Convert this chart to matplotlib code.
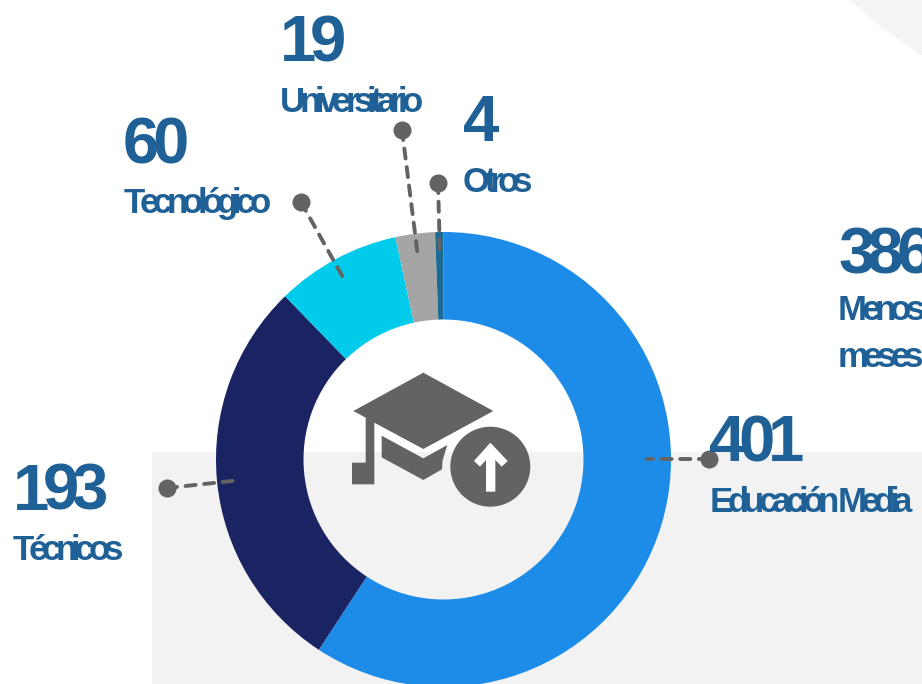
import matplotlib
matplotlib.use("Agg")
import matplotlib.pyplot as plt
from matplotlib.patches import Rectangle, Circle, Polygon
from matplotlib.text import Text
from matplotlib.transforms import Bbox
from matplotlib import font_manager as fm

values = [401, 193, 60, 19, 4]
categories = ["Educación Media", "Técnicos", "Tecnológico", "Universitario", "Otros"]
colors = ["#1c8ce8", "#1a2463", "#00cbeb", "#a5a5a5", "#1a6a94"]
extra_value = 386
extra_lines = ["Menos", "meses"]

W, H = 922, 684
INK = "#1f6096"
GREY = "#636363"
Y = lambda p: H - p


class TrackedText(Text):
    """A text with tight letter spacing (tracking in pixels)."""

    def __init__(self, *args, tracking=0, **kwargs):
        super().__init__(*args, **kwargs)
        self._tracking = tracking

    def _advances(self, dpi):
        font = fm.get_font(fm.findfont(self.get_fontproperties()))
        font.set_size(self.get_fontsize(), dpi)
        return [font.load_char(ord(c)).linearHoriAdvance / 65536 + self._tracking
                for c in self.get_text()]

    def draw(self, renderer):
        if not self.get_visible():
            return
        x, y = self.get_transform().transform(self.get_position())
        if renderer.flipy():
            y = renderer.height - y
        gc = renderer.new_gc()
        gc.set_foreground(self.get_color())
        gc.set_alpha(self.get_alpha())
        self._set_gc_clip(gc)
        for c, adv in zip(self.get_text(), self._advances(self.get_figure().dpi)):
            renderer.draw_text(gc, x, y, c, self.get_fontproperties(), 0, ismath=False)
            x += adv
        gc.restore()

    def get_window_extent(self, renderer=None, dpi=None):
        d = dpi or self.get_figure().dpi
        x, y = self.get_transform().transform(self.get_position())
        w = sum(self._advances(d)) - self._tracking
        h = self.get_fontsize() * d / 72
        return Bbox.from_bounds(x, y - 0.2 * h, w, h)


fig = plt.figure(figsize=(9.22, 6.84), dpi=100, facecolor="white")
ax = fig.add_axes([0, 0, 1, 1])

# background shapes
ax.add_patch(Rectangle((152, 0), W - 152, H - 452, fc="#f2f2f2", ec="none", zorder=0))
ax.add_patch(Circle((1188, Y(-368)), 500, fc="#f4f4f4", ec="none", zorder=0))

# donut
ax.pie(values, colors=colors, startangle=90, counterclock=False, radius=227.5,
       center=(443.5, Y(459.5)), frame=True,
       wedgeprops=dict(width=87.5, linewidth=0), normalize=True)
ax.set_xlim(0, W)
ax.set_ylim(0, H)
ax.set_aspect("auto")
ax.axis("off")

# leader lines
leaders = [
    ((709, 459), (647, 459)),
    ((167, 488), (241, 480)),
    ((301, 202), (345, 281)),
    ((402, 130), (418, 257)),
    ((438, 183), (440, 255)),
]
for (x0, y0), (x1, y1) in leaders:
    ax.plot([x0, x1], [Y(y0), Y(y1)], color=GREY, lw=2.8, ls=(0, (2.6, 2.2)), zorder=5,
            dash_capstyle="round")
    ax.plot([x0], [Y(y0)], "o", color=GREY, ms=13, mew=0, zorder=6)


# icon
def px(points):
    return [(330 + x / 3, Y(350 + y / 3)) for x, y in points]


cap = [(70, 183), (280, 68), (490, 183), (280, 297), (133, 218), (133, 403), (66, 403),
       (66, 338), (107, 338), (107, 203)]
lower = [(155, 257), (280, 325), (352, 285), (338, 330), (336, 358), (280, 390), (155, 322)]
arrow = [(432, 333), (481, 278), (533, 333), (515, 350), (496, 330), (496, 425), (468, 425),
         (468, 330), (450, 350)]
ax.add_patch(Polygon(px(cap), fc=GREY, ec="none", zorder=4))
ax.add_patch(Polygon(px(lower), fc=GREY, ec="none", zorder=4))
ax.add_patch(Circle((490.3, Y(466.7)), 40, fc=GREY, ec="none", zorder=4))
ax.add_patch(Polygon(px(arrow), fc="white", ec="none", zorder=5))


# text
def put(x, y, s, size, tracking):
    t = TrackedText(x, Y(y), s, tracking=tracking, family=["Liberation Sans", "DejaVu Sans"],
                    weight="bold", color=INK, fontsize=size, ha="left", va="baseline", zorder=7)
    ax.add_artist(t)
    t.set_clip_box(ax.bbox)
    t.set_clip_on(True)


numbers = [(values[0], 709, 461), (values[1], 13, 510), (values[2], 123, 163),
           (values[3], 280, 61), (values[4], 463, 141), (extra_value, 838, 273)]
for n, x, y in numbers:
    put(x, y, str(n), 47, -7)

labels = [(categories[0], 710, 512), (categories[1], 13, 560), (categories[2], 124, 213),
          (categories[3], 280, 112), (categories[4], 463, 192),
          (extra_lines[0], 838, 320), (extra_lines[1], 838, 367)]
for s, x, y in labels:
    put(x, y, s, 25, -5.8)

fig.savefig("out.png", dpi=100)
